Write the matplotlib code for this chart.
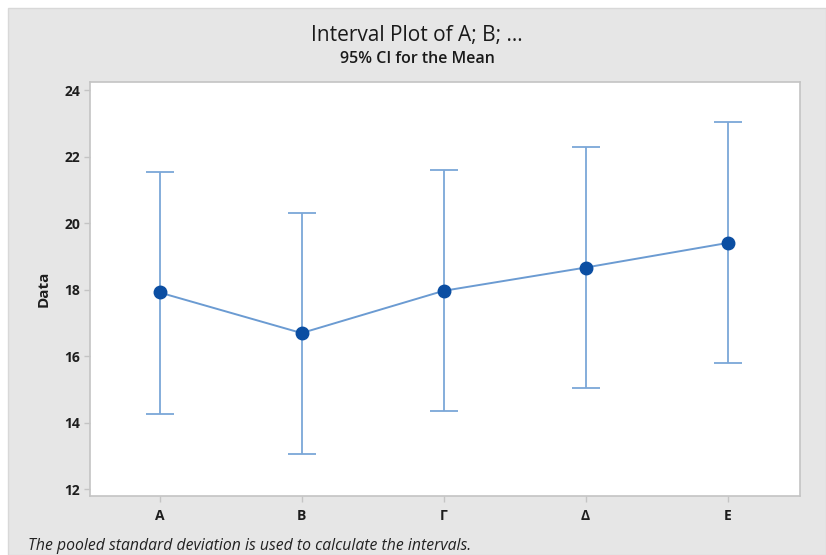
import matplotlib
matplotlib.use("Agg")
import matplotlib.pyplot as plt
from matplotlib.patches import Rectangle

# Group labels and 95% confidence intervals for the mean
categories = ["A", "B", "Γ", "Δ", "E"]
means = [17.92, 16.70, 17.97, 18.67, 19.41]
lower = [14.28, 13.07, 14.35, 15.05, 15.79]
upper = [21.53, 20.31, 21.59, 22.29, 23.04]
y_ticks = [12, 14, 16, 18, 20, 22, 24]

plt.rcParams['font.family'] = ['Open Sans', 'DejaVu Sans']

W, H = 826, 555
fig = plt.figure(figsize=(W / 100, H / 100), dpi=100)
fig.patch.set_facecolor("white")
fig.patches.append(Rectangle((8 / W, 0), 1 - 8 / W, 1 - 8 / H,
                             transform=fig.transFigure, facecolor="#e6e6e6",
                             edgecolor="#d8d8d8", linewidth=1, zorder=-10))

ax = fig.add_axes([90 / W, 1 - 496 / H, (800 - 90) / W, (496 - 82) / H])
ax.set_zorder(1)
ax.set_facecolor("white")

x = list(range(len(categories)))
err_lo = [m - l for m, l in zip(means, lower)]
err_hi = [u - m for m, u in zip(means, upper)]

ax.errorbar(x, means, yerr=[err_lo, err_hi], fmt="none", ecolor="#7ba7d8",
            elinewidth=1.3, capsize=10, capthick=1.3, zorder=2)
ax.plot(x, means, color="#6b9bd2", linewidth=1.4, zorder=3)
ax.plot(x, means, linestyle="none", marker="o", markersize=9,
        markerfacecolor="#0b4ea2", markeredgecolor="#0b4ea2", zorder=4)

ax.set_xlim(-0.49, 4.51)
ax.set_ylim(11.8, 24.25)
ax.set_xticks(x)
ax.set_xticklabels(categories)
ax.set_yticks(y_ticks)

for sp in ax.spines.values():
    sp.set_color("#c4c4c4")
    sp.set_linewidth(1.2)
ax.tick_params(axis="both", colors="#c4c4c4", length=4, width=1,
               labelcolor="#1e1e1e", labelsize=10)
for lab in ax.get_xticklabels() + ax.get_yticklabels():
    lab.set_fontweight("bold")
ax.tick_params(axis="x", pad=5)
ax.tick_params(axis="y", pad=3)

ax.set_ylabel("Data", fontsize=11, fontweight="bold", color="#1e1e1e", labelpad=10)

fig.text(417 / W, 1 - 36 / H, "Interval Plot of A; B; ...", ha="center", va="center",
         fontsize=15, fontweight="medium", color="#1a1a1a")
fig.text(417 / W, 1 - 59 / H, "95% CI for the Mean", ha="center", va="center",
         fontsize=11.5, fontweight="semibold", color="#1a1a1a")
fig.text(28 / W, 1 - 546 / H, "The pooled standard deviation is used to calculate the intervals.",
         ha="left", va="center", fontsize=11.3, style="italic", color="#222222")

fig.savefig("out.png", dpi=100)
